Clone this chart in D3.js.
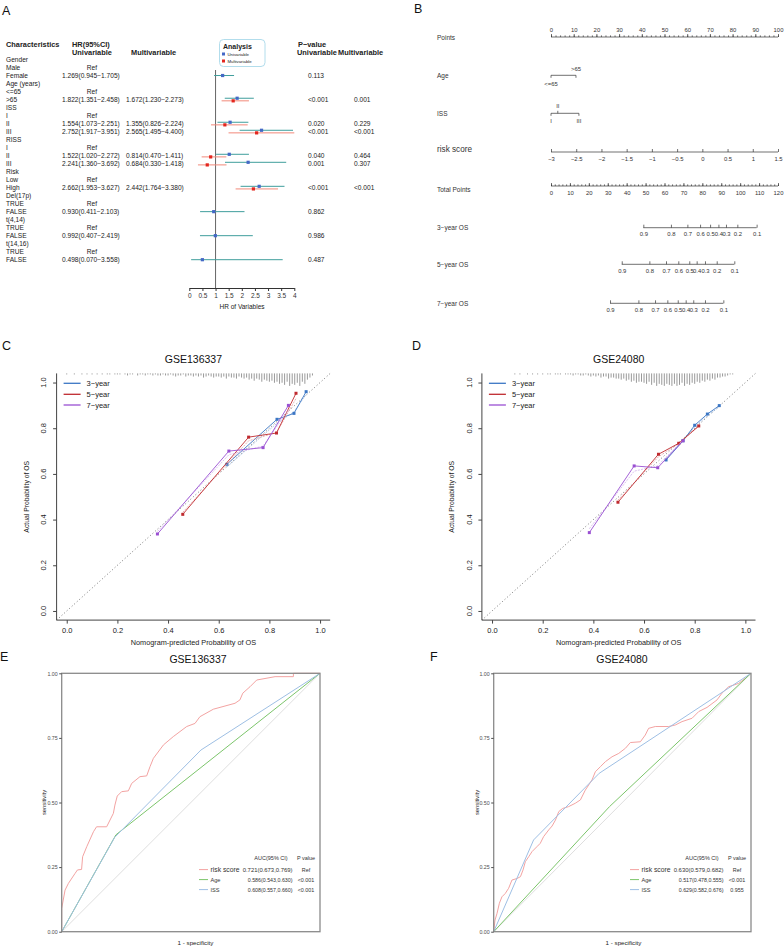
<!DOCTYPE html>
<html>
<head>
<meta charset="utf-8">
<script src="https://cdn.jsdelivr.net/npm/d3@7"></script>
<style>
body{margin:0;background:#fff;}
text{font-family:"Liberation Sans",Arial,Helvetica,sans-serif;}
</style>
</head>
<body>
<div id="wrapper"></div>
<script>
// ---- A: forest plot ----
var forestRows = ['Gender','Male','Female','Age (years)','<=65','>65','ISS','I','II','III','RISS','I','II','III','Risk','Low','High','Del(17p)','TRUE','FALSE','t(4,14)','TRUE','FALSE','t(14,16)','TRUE','FALSE'];
var refRows = [1,4,7,11,15,18,21,24];
var uniHR   = [null,null,1.269,null,null,1.822,null,null,1.554,2.752,null,null,1.522,2.241,null,null,2.662,null,null,0.930,null,null,0.992,null,null,0.498];
var uniLow  = [null,null,0.945,null,null,1.351,null,null,1.073,1.917,null,null,1.020,1.360,null,null,1.953,null,null,0.411,null,null,0.407,null,null,0.070];
var uniHigh = [null,null,1.705,null,null,2.458,null,null,2.251,3.951,null,null,2.272,3.692,null,null,3.627,null,null,2.103,null,null,2.419,null,null,3.558];
var multiHR   = [null,null,null,null,null,1.672,null,null,1.355,2.565,null,null,0.814,0.684,null,null,2.442,null,null,null,null,null,null,null,null,null];
var multiLow  = [null,null,null,null,null,1.230,null,null,0.826,1.495,null,null,0.470,0.330,null,null,1.764,null,null,null,null,null,null,null,null,null];
var multiHigh = [null,null,null,null,null,2.273,null,null,2.224,4.400,null,null,1.411,1.418,null,null,3.380,null,null,null,null,null,null,null,null,null];
var uniP   = ['','','0.113','','','<0.001','','','0.020','<0.001','','','0.040','0.001','','','<0.001','','','0.862','','','0.986','','','0.487'];
var multiP = ['','','','','','0.001','','','0.229','<0.001','','','0.464','0.307','','','<0.001','','','','','','','','',''];
var hrTicks = [0,0.5,1,1.5,2,2.5,3,3.5,4];

// ---- B: nomogram ----
var pointsTicks = [0,10,20,30,40,50,60,70,80,90,100];
var ageLevels = ['<=65','>65'];
var agePoints = [0,11];
var issLevels = ['I','II','III'];
var issPoints = [0,3,12.3];
var riskTicks = [-3,-2.5,-2,-1.5,-1,-0.5,0,0.5,1,1.5];
var totalTicks = [0,10,20,30,40,50,60,70,80,90,100,110,120];
var survProbs = [0.9,0.8,0.7,0.6,0.5,0.4,0.3,0.2,0.1];
var os3Points = [48.8,63.4,72.1,78.8,84.1,88.5,92.5,98.5,108.7];
var os5Points = [37.4,52.0,60.8,67.3,73.1,77.0,81.4,87.6,96.9];
var os7Points = [31.2,46.2,55.0,61.5,67.0,71.2,75.2,81.4,91.1];

// ---- C / D: calibration ----
var calTicks = [0,0.2,0.4,0.6,0.8,1];
var calNames = ['3−year','5−year','7−year'];
var calCPred3 = [0.632,0.830,0.897,0.945], calCObs3 = [0.642,0.839,0.865,0.960], calCCor3 = [0.630,0.822,0.872,0.948];
var calCPred5 = [0.458,0.718,0.828,0.905], calCObs5 = [0.423,0.761,0.779,0.953], calCCor5 = [0.432,0.745,0.781,0.930];
var calCPred7 = [0.358,0.640,0.775,0.875], calCObs7 = [0.337,0.700,0.715,0.900], calCCor7 = [0.348,0.684,0.722,0.880];
var calDPred3 = [0.687,0.754,0.800,0.850,0.897], calDObs3 = [0.661,0.745,0.813,0.862,0.899], calDCor3 = [0.668,0.748,0.806,0.855,0.893];
var calDPred5 = [0.497,0.657,0.737,0.816], calDObs5 = [0.476,0.686,0.734,0.810], calDCor5 = [0.485,0.675,0.733,0.808];
var calDPred7 = [0.384,0.561,0.654,0.754], calDObs7 = [0.343,0.635,0.627,0.745], calDCor7 = [0.360,0.612,0.636,0.748];
// spike heights of predicted-risk distribution, one per 0.01 bin starting at 0
var rugC = [1,0,0,1,0,0,1,0,1,0, 1,0,1,0,1,0,1,1,0,1, 1,1,0,1,2,1,1,0,2,1, 1,2,1,1,2,1,2,2,1,2,
            2,1,2,3,2,2,1,3,2,2, 3,2,3,2,4,3,2,3,4,3, 3,4,3,5,3,4,4,5,3,4, 5,4,6,5,7,5,6,8,6,7,
            8,7,9,8,10,9,11,8,12,10, 11,9,12,8,10,6,4,2];
var rugD = [0,0,0,0,0,0,0,0,0,1, 0,1,0,0,1,0,1,0,1,0, 1,0,1,1,0,1,1,1,0,1, 1,1,2,1,1,2,2,1,2,3,
            2,3,2,4,3,3,5,4,4,5, 5,6,5,7,6,8,7,9,8,8, 9,10,8,11,9,12,10,11,12,10, 11,12,10,12,11,9,12,10,11,9,
            10,8,9,7,8,6,7,5,6,4, 4,3,3,2,1,1];

// ---- E / F: ROC ----
var rocTicks = [0,0.25,0.5,0.75,1];
var rocNames = ['risk score','Age','ISS'];
var rocERiskFpr = [0,0,0.013,0.026,0.052,0.061,0.077,0.081,0.097,0.123,0.135,0.174,0.2,0.206,0.215,0.232,0.258,0.271,0.303,0.329,0.342,0.355,0.394,0.432,0.484,0.516,0.535,0.587,0.671,0.69,0.701,0.729,0.755,0.826,0.897,0.897,1];
var rocERiskTpr = [0,0.09,0.161,0.187,0.226,0.239,0.241,0.29,0.329,0.387,0.406,0.406,0.458,0.49,0.525,0.542,0.545,0.574,0.6,0.603,0.639,0.671,0.723,0.755,0.794,0.806,0.832,0.861,0.884,0.897,0.923,0.948,0.974,0.987,0.987,1,1];
var rocEAgeFpr = [0,0.21,1], rocEAgeTpr = [0,0.375,1];
var rocEIssFpr = [0,0.205,0.539,1], rocEIssTpr = [0,0.365,0.703,1];
var rocEAuc = ['0.721(0.673,0.769)','0.586(0.543,0.630)','0.608(0.557,0.660)'];
var rocEP = ['Ref','<0.001','<0.001'];
var rocFRiskFpr = [0,0.005,0.013,0.022,0.032,0.045,0.058,0.071,0.091,0.104,0.114,0.123,0.136,0.149,0.168,0.181,0.194,0.214,0.227,0.24,0.253,0.268,0.291,0.317,0.337,0.356,0.382,0.395,0.415,0.434,0.46,0.486,0.512,0.531,0.57,0.589,0.602,0.628,0.68,0.706,0.732,0.771,0.797,0.829,0.868,0.887,0.913,0.952,0.978,1];
var rocFRiskTpr = [0,0.045,0.071,0.11,0.135,0.148,0.168,0.2,0.206,0.213,0.239,0.271,0.29,0.31,0.329,0.342,0.368,0.394,0.409,0.432,0.465,0.477,0.484,0.497,0.51,0.548,0.587,0.619,0.639,0.658,0.677,0.69,0.71,0.732,0.735,0.761,0.787,0.794,0.794,0.8,0.813,0.826,0.852,0.868,0.897,0.923,0.948,0.961,0.981,1];
var rocFAgeFpr = [0,0.45,1], rocFAgeTpr = [0,0.484,1];
var rocFIssFpr = [0,0.155,0.41,1], rocFIssTpr = [0,0.355,0.613,1];
var rocFAuc = ['0.630(0.579,0.682)','0.517(0.478,0.555)','0.629(0.582,0.676)'];
var rocFP = ['Ref','<0.001','0.955'];

var FONT = '"Liberation Sans", Arial, Helvetica, sans-serif';
var svg = d3.select('#wrapper').append('svg')
            .attr('width',784).attr('height',949)
            .style('background','#fff');

function txt(g, x, y, s, size, anchor, weight, fill){
  return g.append('text').attr('x',x).attr('y',y).text(s)
          .style('font-size',size+'px')
          .style('text-anchor',anchor||'start')
          .style('font-weight',weight||'normal')
          .style('fill',fill||'#222');
}
function axisStyle(sel, size, col){
  sel.attr('font-family',FONT).attr('font-size',size);
  sel.selectAll('g').attr('font-size',size);
  sel.selectAll('text').attr('fill',col||'#222').style('font-size',size+'px');
  sel.selectAll('line,path').attr('stroke',col||'#222');
}

// panel letters
[['A',2,15],['B',414,13],['C',2,350],['D',412,350],['E',0,661],['F',430,661]].forEach(function(p){
  txt(svg,p[1],p[2],p[0],12.5,'start','normal','#111');
});

function forestPanel(){
  var g = svg.append('g').attr('id','forest');
  var y = d3.scaleLinear().domain([0,25]).range([59.5,259.7]);
  var x = d3.scaleLinear().domain([0,4]).range([189.3,294.3]).clamp(true);
  var f3 = d3.format('.3f');
  var fs = 6.6;

  txt(g,6,46.5,'Characteristics',7.4,'start','bold');
  txt(g,72,46.5,'HR(95%CI)',7.4,'start','bold');
  txt(g,72,54.5,'Univariable',7.4,'start','bold');
  txt(g,131,54.5,'Multivariable',7.4,'start','bold');
  txt(g,298,46.5,'P−value',7.4,'start','bold');
  txt(g,297,54.5,'Univariable',7.4,'start','bold');
  txt(g,338,54.5,'Multivariable',7.4,'start','bold');

  forestRows.forEach(function(r,i){
    var yy = y(i)+2.4;
    txt(g,6,yy,r,fs);
    if(refRows.indexOf(i)>=0) txt(g,92,yy,'Ref',fs,'middle');
    if(uniHR[i]!==null) txt(g,62,yy,f3(uniHR[i])+'('+f3(uniLow[i])+'−'+f3(uniHigh[i])+')',fs);
    if(multiHR[i]!==null) txt(g,126,yy,f3(multiHR[i])+'('+f3(multiLow[i])+'−'+f3(multiHigh[i])+')',fs);
    if(uniP[i]) txt(g,308,yy,uniP[i],fs);
    if(multiP[i]) txt(g,354,yy,multiP[i],fs);
  });

  // reference line
  g.append('line').attr('x1',x(1)).attr('x2',x(1)).attr('y1',70).attr('y2',288)
   .attr('stroke','#555').attr('stroke-width',0.9);

  var marks = g.append('g');
  forestRows.forEach(function(r,i){
    var both = multiHR[i]!==null;
    if(uniHR[i]!==null){
      var yu = y(i) - (both?1.3:0);
      marks.append('line').attr('x1',x(uniLow[i])).attr('x2',x(uniHigh[i])).attr('y1',yu).attr('y2',yu)
           .attr('stroke','#3f9e9c').attr('stroke-width',1);
    }
    if(both){
      var ym = y(i)+1.3;
      marks.append('line').attr('x1',x(multiLow[i])).attr('x2',x(multiHigh[i])).attr('y1',ym).attr('y2',ym)
           .attr('stroke','#f2897a').attr('stroke-width',1);
      marks.append('rect').attr('x',x(multiHR[i])-1.6).attr('y',ym-1.6).attr('width',3.2).attr('height',3.2)
           .attr('fill','#e3261e');
    }
    if(uniHR[i]!==null){
      var yu2 = y(i) - (both?1.3:0);
      marks.append('rect').attr('x',x(uniHR[i])-1.6).attr('y',yu2-1.6).attr('width',3.2).attr('height',3.2)
           .attr('fill','#4468c6');
    }
  });

  var ax = g.append('g').attr('transform','translate(0,288)')
            .call(d3.axisBottom(x).tickValues(hrTicks).tickSize(3).tickSizeOuter(0).tickPadding(2).tickFormat(d3.format('~g')));
  axisStyle(ax,6.5,'#333');
  txt(g,242,309,'HR of Variables',6.5,'middle');

  // legend
  g.append('rect').attr('x',219.5).attr('y',39.5).attr('width',45.5).attr('height',27).attr('rx',4)
   .attr('fill','#fff').attr('stroke','#a9d9ea').attr('stroke-width',0.9);
  txt(g,223,48.5,'Analysis',7,'start','bold');
  g.append('rect').attr('x',222).attr('y',52.5).attr('width',3).attr('height',3).attr('fill','#4468c6');
  g.append('rect').attr('x',222).attr('y',59.5).attr('width',3).attr('height',3).attr('fill','#e3261e');
  txt(g,227.5,55.6,'Univariable',4.3);
  txt(g,227.5,62.6,'Multivariable',4.3);
}

function nomoPanel(){
  var g = svg.append('g').attr('id','nomogram');
  var pts = d3.scaleLinear().domain([0,100]).range([551,778]);
  var tot = d3.scaleLinear().domain([0,120]).range([551,778]);
  var rs  = d3.scaleLinear().domain([-3,1.5]).range([551,778]);
  var col = '#333';

  [['Points',40,6.5],['Age',77.5,6.5],['ISS',115.5,6.5],['risk score',152,8.2],
   ['Total Points',191.5,6.5],['3−year OS',229.5,6.5],['5−year OS',267,6.5],['7−year OS',306,6.5]]
   .forEach(function(l){ txt(g,437,l[1],l[0],l[2],'start','normal','#333'); });

  function nomoAxis(scale, vals, labels, yy, above, minor){
    var a = g.append('g').attr('transform','translate(0,'+yy+')');
    var mk = above ? d3.axisTop : d3.axisBottom;
    if(minor){
      var m = a.append('g').call(mk(scale).tickValues(minor).tickSizeInner(above?1.6:-1.6).tickSizeOuter(0).tickFormat(''));
      m.selectAll('.domain').remove();
    }
    var M = a.append('g').call(mk(scale).tickValues(vals).tickSizeInner(above?3:-3).tickSizeOuter(0)
               .tickPadding(above?2.5:4.5).tickFormat(function(d,i){ return labels[i]; }));
    M.selectAll('.domain').remove();
    a.append('line').attr('x1',scale(d3.min(vals))).attr('x2',scale(d3.max(vals)))
     .attr('y1',0).attr('y2',0);
    axisStyle(a,5.9,col);
    a.selectAll('line').attr('stroke-width',0.7);
  }

  nomoAxis(pts, pointsTicks, pointsTicks, 37, true, d3.range(0,101,2));
  nomoAxis(rs, riskTicks, riskTicks.map(function(d){ return d3.format('~g')(d).replace('-','−'); }), 152, false);
  nomoAxis(tot, totalTicks, totalTicks, 186, false, d3.range(0,121,2));
  nomoAxis(tot, os3Points, survProbs, 227.7, false);
  nomoAxis(tot, os5Points, survProbs, 264.3, false);
  nomoAxis(tot, os7Points, survProbs, 303.3, false);

  // Age
  var ay = 75.3;
  g.append('line').attr('x1',pts(agePoints[0])).attr('x2',pts(agePoints[1])).attr('y1',ay).attr('y2',ay).attr('stroke',col).attr('stroke-width',0.7);
  agePoints.forEach(function(p,i){
    g.append('line').attr('x1',pts(p)).attr('x2',pts(p)).attr('y1',ay).attr('y2',ay+2.5).attr('stroke',col).attr('stroke-width',0.7);
    txt(g,pts(p),i===1?70.5:85.5,ageLevels[i],5.9,'middle','normal',col);
  });
  // ISS
  var iy = 113.3;
  g.append('line').attr('x1',pts(issPoints[0])).attr('x2',pts(issPoints[2])).attr('y1',iy).attr('y2',iy).attr('stroke',col).attr('stroke-width',0.7);
  issPoints.forEach(function(p,i){
    var up = (i===1);
    g.append('line').attr('x1',pts(p)).attr('x2',pts(p)).attr('y1',iy).attr('y2',up?iy-2.5:iy+2.5).attr('stroke',col).attr('stroke-width',0.7);
    txt(g,pts(p),up?108:122.5,issLevels[i],5.9,'middle','normal',col);
  });
}

function calPanel(o){
  var g = svg.append('g');
  var x = d3.scaleLinear().domain([-0.04,1.04]).range([o.left,o.left+273.6]);
  var y = d3.scaleLinear().domain([-0.04,1.04]).range([620.1,373.4]);
  var axc = '#444';

  txt(g,x(0.5),362.5,o.title,10.5,'middle','normal','#111');

  // L box
  g.append('path').attr('d','M'+x(-0.04)+','+y(1.04)+'V'+y(-0.04)+'H'+x(1.04))
   .attr('fill','none').attr('stroke',axc).attr('stroke-width',1);

  var xa = g.append('g').attr('transform','translate(0,'+y(-0.04)+')')
            .call(d3.axisBottom(x).tickValues(calTicks).tickSize(3.5).tickPadding(4).tickFormat(d3.format('.1f')));
  xa.select('.domain').remove();
  axisStyle(xa,7.5,axc);
  xa.selectAll('text').attr('fill','#222');

  var ya = g.append('g').attr('transform','translate('+x(-0.04)+',0)')
            .call(d3.axisLeft(y).tickValues(calTicks).tickSize(3.5).tickFormat(''));
  ya.select('.domain').remove();
  axisStyle(ya,7.5,axc);
  calTicks.forEach(function(t){
    g.append('text').attr('transform','translate('+(o.left-13)+','+y(t)+') rotate(-90)')
     .attr('dy','0.35em').style('text-anchor','middle').style('font-size','7.5px').style('fill','#222')
     .text(d3.format('.1f')(t));
  });
  txt(g,x(0.5),644.5,'Nomogram-predicted Probability of OS',7.3,'middle');
  g.append('text').attr('transform','translate('+(o.left-30)+','+y(0.5)+') rotate(-90)')
   .attr('dy','0.35em').style('text-anchor','middle').style('font-size','6.8px').style('fill','#222')
   .text('Actual Probability of OS');

  // ideal line
  g.append('line').attr('x1',x(-0.04)).attr('y1',y(-0.04)).attr('x2',x(1.04)).attr('y2',y(1.04))
   .attr('stroke','#555').attr('stroke-width',0.8).attr('stroke-dasharray','1,2.4');

  // risk distribution spikes
  var h = d3.scaleLinear().domain([0,12]).range([0,12.5]);
  g.append('g').selectAll('line').data(o.rug).enter().append('line')
   .attr('x1',function(d,i){ return x(i/100); }).attr('x2',function(d,i){ return x(i/100); })
   .attr('y1',y(1.04)).attr('y2',function(d){ return y(1.04)+h(d); })
   .attr('stroke','#555').attr('stroke-width',0.6)
   .attr('opacity',function(d){ return d>0?1:0; });

  var line = d3.line().x(function(d){ return x(d[0]); }).y(function(d){ return y(d[1]); });
  o.series.forEach(function(s){
    var cor = s.pred.map(function(p,i){ return [p,s.cor[i]]; });
    var app = s.pred.map(function(p,i){ return [p,s.obs[i]]; });
    g.append('path').attr('d',line(cor)).attr('fill','none').attr('stroke',s.light)
     .attr('stroke-width',0.8).attr('stroke-dasharray','2,1.2');
    g.append('path').attr('d',line(app)).attr('fill','none').attr('stroke',s.color).attr('stroke-width',0.9);
    g.append('g').selectAll('rect').data(app).enter().append('rect')
     .attr('x',function(d){ return x(d[0])-1.5; }).attr('y',function(d){ return y(d[1])-1.5; })
     .attr('width',3).attr('height',3).attr('fill',s.color);
  });

  // legend
  o.series.forEach(function(s,i){
    var ly = [383.3,394.3,405][i];
    g.append('line').attr('x1',o.left+7).attr('x2',o.left+24).attr('y1',ly).attr('y2',ly)
     .attr('stroke',s.color).attr('stroke-width',1.3);
    txt(g,o.left+30,ly+2.7,calNames[i],7.5,'start','normal','#222');
  });
}

function rocPanel(o){
  var g = svg.append('g');
  var x = d3.scaleLinear().domain([0,1]).range([o.left,o.right]);
  var y = d3.scaleLinear().domain([0,1]).range([931.7,673.3]);
  var tc = '#4d4d4d';

  txt(g,o.titleX,662.5,o.title,10.5,'middle','normal','#111');

  var line = d3.line().x(function(d){ return x(d[0]); }).y(function(d){ return y(d[1]); });
  function pairs(a,b){ return a.map(function(v,i){ return [v,b[i]]; }); }
  g.append('path').attr('d',line([[0,0],[1,1]])).attr('stroke','#dadada').attr('stroke-width',0.9).attr('fill','none');
  var curves = [
    {d:pairs(o.riskFpr,o.riskTpr), c:'#f3a3a2'},
    {d:pairs(o.ageFpr,o.ageTpr),   c:'#7cc56b'},
    {d:pairs(o.issFpr,o.issTpr),   c:'#9ebfe4'}
  ];
  curves.forEach(function(c){
    g.append('path').attr('d',line(c.d)).attr('fill','none').attr('stroke',c.c).attr('stroke-width',1);
  });

  g.append('rect').attr('x',o.left).attr('y',y(1)).attr('width',o.right-o.left).attr('height',y(0)-y(1))
   .attr('fill','none').attr('stroke','#8a8a8a').attr('stroke-width',1.3);

  var clipId = 'clip'+o.title;
  svg.append('clipPath').attr('id',clipId).append('rect').attr('x',o.left-20).attr('y',900).attr('width',o.right-o.left+23.5).attr('height',60);
  var xa = g.append('g').attr('transform','translate(0,'+y(0)+')').attr('clip-path','url(#'+clipId+')')
            .call(d3.axisBottom(x).tickValues(rocTicks).tickSize(2.5).tickPadding(1.5).tickFormat(d3.format('.2f')));
  xa.select('.domain').remove();
  axisStyle(xa,5.3,tc);
  var ya = g.append('g').attr('transform','translate('+x(0)+',0)')
            .call(d3.axisLeft(y).tickValues(rocTicks).tickSize(2.5).tickPadding(1.5).tickFormat(d3.format('.2f')));
  ya.select('.domain').remove();
  axisStyle(ya,5.3,tc);

  txt(g,o.xLabX,945,'1 - specificity',6.2,'middle','normal','#222');
  g.append('text').attr('transform','translate('+o.yLabX+','+y(0.5)+') rotate(-90)')
   .attr('dy','0.35em').style('text-anchor','middle').style('font-size','5.8px').style('fill','#222')
   .text('sensitivity');

  // legend
  var kx = o.right - 121;
  txt(g,kx+72,860,'AUC(95% CI)',5.5,'middle','normal','#333');
  txt(g,kx+107,860,'P value',5.5,'middle','normal','#333');
  rocNames.forEach(function(n,i){
    var yy = [871.5,881.5,891.5][i];
    g.append('line').attr('x1',kx).attr('x2',kx+9).attr('y1',yy-1.9).attr('y2',yy-1.9)
     .attr('stroke',curves[i].c).attr('stroke-width',1);
    txt(g,kx+11.5,yy,n,i===0?6.8:5.6,'start','normal','#333');
    txt(g,kx+93.5,yy,o.auc[i],i===0?5.9:5.3,'end','normal','#333');
    txt(g,kx+107,yy,o.p[i],5.4,'middle','normal','#333');
  });
}

forestPanel();
nomoPanel();
calPanel({left:56.6, title:'GSE136337', rug:rugC, series:[
  {pred:calCPred3, obs:calCObs3, cor:calCCor3, color:'#3b76c4', light:'#a6c0e4'},
  {pred:calCPred5, obs:calCObs5, cor:calCCor5, color:'#bf2a2f', light:'#e3a0a2'},
  {pred:calCPred7, obs:calCObs7, cor:calCCor7, color:'#9a50d2', light:'#d0b0ea'}
]});
calPanel({left:481.9, title:'GSE24080', rug:rugD, series:[
  {pred:calDPred3, obs:calDObs3, cor:calDCor3, color:'#3b76c4', light:'#a6c0e4'},
  {pred:calDPred5, obs:calDObs5, cor:calDCor5, color:'#bf2a2f', light:'#e3a0a2'},
  {pred:calDPred7, obs:calDObs7, cor:calDCor7, color:'#9a50d2', light:'#d0b0ea'}
]});
rocPanel({left:61.7, right:320, title:'GSE136337', titleX:198, xLabX:195.5, yLabX:44.3,
  riskFpr:rocERiskFpr, riskTpr:rocERiskTpr, ageFpr:rocEAgeFpr, ageTpr:rocEAgeTpr, issFpr:rocEIssFpr, issTpr:rocEIssTpr,
  auc:rocEAuc, p:rocEP});
rocPanel({left:493.7, right:751, title:'GSE24080', titleX:622, xLabX:623.5, yLabX:477,
  riskFpr:rocFRiskFpr, riskTpr:rocFRiskTpr, ageFpr:rocFAgeFpr, ageTpr:rocFAgeTpr, issFpr:rocFIssFpr, issTpr:rocFIssTpr,
  auc:rocFAuc, p:rocFP});
</script>
</body>
</html>
